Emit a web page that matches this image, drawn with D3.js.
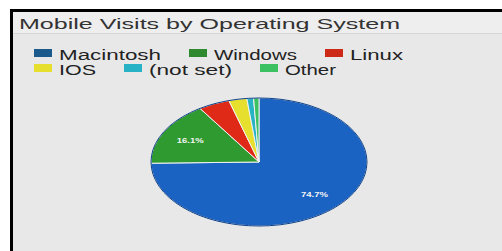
<!DOCTYPE html>
<html>
<head>
<meta charset="utf-8">
<script src="https://cdn.jsdelivr.net/npm/d3@7"></script>
<style>
  body { margin: 0; background: #fff; }
  svg { display: block; font-family: "Liberation Sans", Arial, sans-serif; }
</style>
</head>
<body>
<div id="chart"></div>
<script>
const title = "Mobile Visits by Operating System";
const systems = ["Macintosh", "Windows", "Linux", "IOS", "(not set)", "Other"];
const shares = [74.7, 16.1, 4.7, 2.7, 1.0, 0.8];
const shownLabels = ["74.7%", "16.1%"];
const sliceColors = ["#1a63c2", "#2f9a2f", "#de2a16", "#e6df2e", "#27b2c6", "#3cc162"];
const legendColors = ["#1c5a8c", "#2f8a2f", "#cc2a16", "#e6df2e", "#27b2c6", "#3cc162"];

const width = 502;
const height = 251;
// the source picture is stretched sideways, so text is widened to these lengths
const titleWidth = 381;
const legendTextWidths = [102, 83, 53, 37, 83, 51];

const svg = d3.select("#chart")
  .append("svg")
  .attr("width", width)
  .attr("height", height);

// panel frame, cut off by the right and bottom edges
svg.append("rect")
  .attr("x", 11.5)
  .attr("y", 10.5)
  .attr("width", width)
  .attr("height", height)
  .attr("fill", "#e8e8e8")
  .attr("stroke", "#000")
  .attr("stroke-width", 3);

svg.append("rect")
  .attr("x", 13)
  .attr("y", 12)
  .attr("width", width)
  .attr("height", 21)
  .attr("fill", "#eeeeee");

svg.append("line")
  .attr("x1", 13).attr("x2", width)
  .attr("y1", 33.5).attr("y2", 33.5)
  .attr("stroke", "#d6d6d6");

svg.append("text")
  .attr("x", 19)
  .attr("y", 29)
  .attr("font-size", 14.5)
  .attr("fill", "#333")
  .attr("textLength", titleWidth)
  .attr("lengthAdjust", "spacingAndGlyphs")
  .text(title);

// legend, three items per row, flowing left to right
const legend = svg.append("g").attr("class", "legend");
let lx = 34;
systems.forEach((s, i) => {
  if (i % 3 === 0) lx = 34;
  const ly = i < 3 ? 60 : 75;
  legend.append("rect")
    .attr("x", lx)
    .attr("y", ly - 11)
    .attr("width", 18)
    .attr("height", 8)
    .attr("fill", legendColors[i]);
  legend.append("text")
    .attr("x", lx + 25)
    .attr("y", ly)
    .attr("font-size", 14)
    .attr("fill", "#222")
    .attr("textLength", legendTextWidths[i])
    .attr("lengthAdjust", "spacingAndGlyphs")
    .text(s);
  lx += 25 + legendTextWidths[i] + 28;
});

// pie drawn as an ellipse (the source picture is squashed vertically)
const cx = 259, cy = 162, rx = 108, ry = 64;

const pie = d3.pie().sort(null).value(d => d);
const arc = d3.arc().innerRadius(0).outerRadius(rx);
const arcs = pie(shares);

const g = svg.append("g")
  .attr("transform", `translate(${cx},${cy}) scale(1,${ry / rx})`);

g.selectAll("path")
  .data(arcs)
  .join("path")
  .attr("d", arc)
  .attr("fill", (d, i) => sliceColors[i])
  .attr("stroke", "#f2f2f2")
  .attr("stroke-width", 1)
  .attr("vector-effect", "non-scaling-stroke");

g.append("ellipse")
  .attr("rx", rx)
  .attr("ry", rx)
  .attr("fill", "none")
  .attr("stroke", "#0d3f86")
  .attr("stroke-width", 1)
  .attr("vector-effect", "non-scaling-stroke");

const labelArc = d3.arc().innerRadius(rx * 0.72).outerRadius(rx * 0.72);
shownLabels.forEach((lab, i) => {
  const [px, py] = labelArc.centroid(arcs[i]);
  svg.append("text")
    .attr("x", cx + px)
    .attr("y", cy + py * ry / rx + 3)
    .attr("text-anchor", "middle")
    .attr("font-size", 8)
    .attr("font-weight", "bold")
    .attr("fill", "#f4f4f4")
    .attr("textLength", 27)
    .attr("lengthAdjust", "spacingAndGlyphs")
    .text(lab);
});
</script>
</body>
</html>
